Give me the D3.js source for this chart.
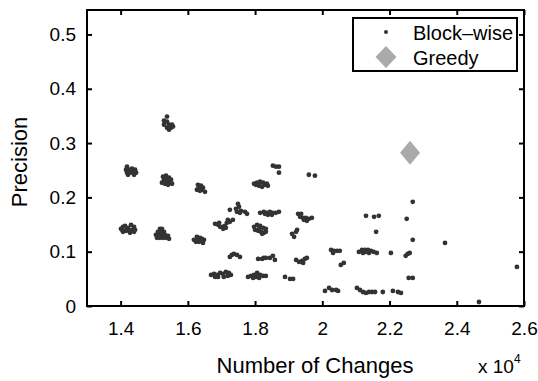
<!DOCTYPE html>
<html>
<head>
<meta charset="utf-8">
<script src="https://cdn.jsdelivr.net/npm/d3@7"></script>
<style>
  body { margin: 0; background: #fff; }
  svg { display: block; font-family: "Liberation Sans", Arial, sans-serif; }
  .axis path, .axis line { stroke: #000; stroke-width: 2; }
  .axis text { font-size: 19px; fill: #000; }
</style>
</head>
<body>
<div id="chart"></div>
<script>
var svgWidth = 538;
var svgHeight = 381;
var margin = {top: 10, right: 14, bottom: 75, left: 87};
var width = svgWidth - margin.left - margin.right;
var height = svgHeight - margin.top - margin.bottom;

// axis ticks (x in units of 10^4)
var xTicks = [1.4, 1.6, 1.8, 2, 2.2, 2.4, 2.6];
var yTicks = [0, 0.1, 0.2, 0.3, 0.4, 0.5];

// Greedy result
var greedyX = [2.261];
var greedyY = [0.282];

// Block-wise results: [changes (x10^4), precision]
var blockWise = [
  // ~1.43, 0.25
  [1.419,0.2565],[1.416,0.2509],[1.425,0.2509],[1.434,0.2528],[1.443,0.2509],[1.419,0.2454],
  [1.428,0.2454],[1.437,0.2454],[1.446,0.2454],[1.422,0.2417],[1.440,0.2417],[1.431,0.2491],
  // ~1.42, 0.14
  [1.401,0.1421],[1.407,0.1458],[1.413,0.1476],[1.422,0.1439],[1.431,0.1494],[1.440,0.1458],
  [1.443,0.1402],[1.434,0.1402],[1.425,0.1384],[1.416,0.1384],[1.407,0.1365],[1.428,0.1347],
  [1.440,0.1365],[1.419,0.1421],[1.404,0.1402],
  // ~1.54, 0.34
  [1.538,0.3487],[1.529,0.3413],[1.538,0.3395],[1.544,0.3339],[1.553,0.3339],[1.550,0.3284],
  [1.538,0.3284],[1.529,0.3339],[1.544,0.3247],[1.556,0.3303],
  // ~1.54, 0.23
  [1.526,0.2380],[1.535,0.2399],[1.544,0.2362],[1.550,0.2325],[1.529,0.2325],[1.538,0.2306],
  [1.547,0.2269],[1.523,0.2269],[1.532,0.2251],[1.541,0.2232],[1.553,0.2251],[1.535,0.2343],
  // ~1.53, 0.13
  [1.517,0.1421],[1.523,0.1421],[1.511,0.1365],[1.520,0.1365],[1.529,0.1365],[1.505,0.1310],
  [1.514,0.1310],[1.523,0.1310],[1.532,0.1310],[1.541,0.1292],[1.508,0.1255],[1.517,0.1255],
  [1.526,0.1255],[1.535,0.1255],[1.544,0.1236],[1.529,0.1292],
  // ~1.64, 0.22
  [1.630,0.2232],[1.639,0.2214],[1.645,0.2177],[1.633,0.2177],[1.627,0.2140],[1.642,0.2140],
  [1.636,0.2122],[1.651,0.2103],
  // ~1.63, 0.12
  [1.618,0.1218],[1.627,0.1273],[1.636,0.1255],[1.642,0.1236],[1.648,0.1218],[1.624,0.1181],
  [1.633,0.1181],[1.645,0.1162],[1.630,0.1218],
  // ~1.75, 0.18
  [1.725,0.1771],[1.743,0.1790],[1.749,0.1882],[1.752,0.1827],[1.746,0.1734],[1.758,0.1753],
  [1.755,0.1716],[1.770,0.1734],[1.776,0.1697],
  // ~1.82, 0.225
  [1.797,0.2251],[1.806,0.2269],[1.815,0.2288],[1.824,0.2269],[1.829,0.2232],[1.838,0.2214],
  [1.812,0.2214],[1.821,0.2196],[1.803,0.2232],[1.835,0.2251],
  // ~1.86, 0.255
  [1.853,0.2583],[1.862,0.2565],[1.871,0.2565],[1.871,0.2454],
  // ~1.97, 0.24
  [1.960,0.2417],[1.978,0.2399],
  // ~1.84, 0.17
  [1.815,0.1716],[1.826,0.1734],[1.835,0.1716],[1.844,0.1734],[1.853,0.1716],[1.862,0.1716],
  [1.871,0.1734],[1.838,0.1679],[1.850,0.1679],[1.829,0.1697],
  // ~1.94, 0.163
  [1.928,0.1697],[1.937,0.1697],[1.934,0.1642],[1.943,0.1624],[1.951,0.1624],[1.960,0.1605],
  [1.969,0.1624],[1.945,0.1587],[1.954,0.1568],
  // ~1.71, 0.15
  [1.681,0.1513],[1.690,0.1494],[1.696,0.1458],[1.702,0.1458],[1.710,0.1476],[1.716,0.1531],
  [1.719,0.1587],[1.725,0.1550],[1.713,0.1439],[1.705,0.1421],[1.734,0.1587],[1.693,0.1531],
  // ~1.81, 0.14
  [1.797,0.1458],[1.806,0.1494],[1.815,0.1476],[1.824,0.1439],[1.832,0.1421],[1.800,0.1402],
  [1.809,0.1384],[1.818,0.1365],[1.826,0.1347],[1.812,0.1421],[1.832,0.1365],[1.821,0.1328],
  // ~1.92, 0.13
  [1.910,0.1328],[1.922,0.1365],[1.925,0.1402],[1.916,0.1273],
  // ~1.74, 0.09
  [1.725,0.0904],[1.737,0.0959],[1.746,0.0941],[1.755,0.0904],[1.731,0.0941],
  // ~1.83, 0.088
  [1.809,0.0867],[1.821,0.0867],[1.832,0.0886],[1.844,0.0886],[1.853,0.0923],[1.859,0.0849],
  [1.826,0.0886],
  // ~1.94, 0.084
  [1.922,0.0849],[1.931,0.0812],[1.940,0.0830],[1.948,0.0867],[1.954,0.0886],[1.943,0.0793],
  // ~2.04, 0.1
  [2.026,0.1033],[2.035,0.1015],[2.044,0.1015],[2.052,0.1015],[2.032,0.0978],
  [2.055,0.0756],[2.064,0.0793],
  // ~1.7, 0.058
  [1.669,0.0572],[1.678,0.0590],[1.687,0.0572],[1.696,0.0609],[1.705,0.0590],[1.713,0.0627],
  [1.722,0.0609],[1.728,0.0572],[1.690,0.0535],[1.707,0.0535],[1.681,0.0535],[1.719,0.0554],
  // ~1.8, 0.055
  [1.779,0.0535],[1.788,0.0554],[1.797,0.0572],[1.806,0.0609],[1.815,0.0572],[1.824,0.0554],
  [1.832,0.0554],[1.794,0.0517],[1.812,0.0517],[1.803,0.0535],
  [1.889,0.0535],[1.904,0.0498],[1.913,0.0498],
  // ~2.03, 0.03
  [2.008,0.0277],[2.020,0.0332],[2.029,0.0295],[2.041,0.0295],[2.047,0.0277],
  // ~2.13, 0.1
  [2.109,0.0996],[2.118,0.1033],[2.127,0.1033],[2.136,0.1033],[2.145,0.1015],[2.153,0.0996],
  [2.162,0.0978],[2.121,0.0978],[2.139,0.0978],[2.130,0.0996],
  [2.204,0.0978],[2.248,0.0923],[2.254,0.0959],[2.260,0.0978],
  [2.257,0.0517],[2.269,0.0517],
  [2.130,0.1661],[2.154,0.1642],[2.168,0.1661],[2.251,0.1605],[2.269,0.1919],
  [2.160,0.1365],[2.269,0.1218],[2.365,0.1162],[2.579,0.0720],[2.466,0.0074],
  // ~2.15, 0.027
  [2.103,0.0332],[2.112,0.0295],[2.121,0.0258],[2.130,0.0240],[2.139,0.0258],[2.148,0.0258],
  [2.157,0.0258],[2.180,0.0258],[2.210,0.0277],[2.225,0.0258],[2.234,0.0240]
];

var svg = d3.select("#chart")
  .append("svg")
  .attr("width", svgWidth)
  .attr("height", svgHeight);

svg.append("rect").attr("width", svgWidth).attr("height", svgHeight).attr("fill", "#fff");

var chart = svg.append("g")
  .attr("transform", "translate(" + margin.left + "," + margin.top + ")");

var xScale = d3.scaleLinear().domain([1.3, 2.6]).range([0, width]);
var yScale = d3.scaleLinear().domain([0, 0.545]).range([height, 0]);

// points
chart.selectAll("circle.block")
  .data(blockWise)
  .enter()
  .append("circle")
  .attr("class", "block")
  .attr("cx", function(d) { return xScale(d[0]); })
  .attr("cy", function(d) { return yScale(d[1]); })
  .attr("r", 2.4)
  .attr("fill", "#333");

function diamondPath(w, h) {
  return "M0," + (-h) + "L" + w + ",0L0," + h + "L" + (-w) + ",0Z";
}

chart.selectAll("path.greedy")
  .data(greedyX)
  .enter()
  .append("path")
  .attr("class", "greedy")
  .attr("d", diamondPath(10, 12))
  .attr("transform", function(d, i) {
    return "translate(" + xScale(d) + "," + yScale(greedyY[i]) + ")";
  })
  .attr("fill", "#aaa");

// axes, MATLAB style box with inward ticks
var bottomAxis = d3.axisBottom(xScale).tickValues(xTicks).tickSize(-5).tickPadding(16)
  .tickFormat(function(d) { return d; });
var topAxis = d3.axisTop(xScale).tickValues(xTicks).tickSize(-5).tickFormat("");
var leftAxis = d3.axisLeft(yScale).tickValues(yTicks).tickSize(-5).tickPadding(11)
  .tickFormat(function(d) { return d; });
var rightAxis = d3.axisRight(yScale).tickValues(yTicks).tickSize(-5).tickFormat("");

chart.append("g").attr("class", "axis").attr("transform", "translate(0," + height + ")").call(bottomAxis);
chart.append("g").attr("class", "axis").call(topAxis);
chart.append("g").attr("class", "axis").call(leftAxis);
chart.append("g").attr("class", "axis").attr("transform", "translate(" + width + ",0)").call(rightAxis);

chart.selectAll(".axis .domain").remove();
chart.append("rect")
  .attr("width", width)
  .attr("height", height)
  .attr("fill", "none")
  .attr("stroke", "#000")
  .attr("stroke-width", 2);

// axis labels
chart.append("text")
  .attr("x", 228)
  .attr("y", height + 67)
  .attr("text-anchor", "middle")
  .style("font-size", "22px")
  .text("Number of Changes");

var expo = chart.append("text")
  .attr("x", 391)
  .attr("y", height + 67)
  .style("font-size", "19px")
  .text("x 10");
expo.append("tspan")
  .attr("dy", -10)
  .style("font-size", "12px")
  .text("4");

chart.append("text")
  .attr("transform", "rotate(-90)")
  .attr("x", -height / 2 - 4)
  .attr("y", -60)
  .attr("text-anchor", "middle")
  .style("font-size", "22px")
  .text("Precision");

// legend
var legend = chart.append("g").attr("transform", "translate(266,8)");
legend.append("rect")
  .attr("width", 164)
  .attr("height", 53)
  .attr("fill", "#fff")
  .attr("stroke", "#000")
  .attr("stroke-width", 2);
legend.append("circle").attr("cx", 33).attr("cy", 14).attr("r", 2).attr("fill", "#333");
legend.append("path").attr("d", diamondPath(10.5, 11))
  .attr("transform", "translate(33,39)").attr("fill", "#aaa");
legend.append("text").attr("x", 60).attr("y", 22).style("font-size", "20px").text("Block\u2013wise");
legend.append("text").attr("x", 60).attr("y", 47).style("font-size", "20px").text("Greedy");
</script>
</body>
</html>
